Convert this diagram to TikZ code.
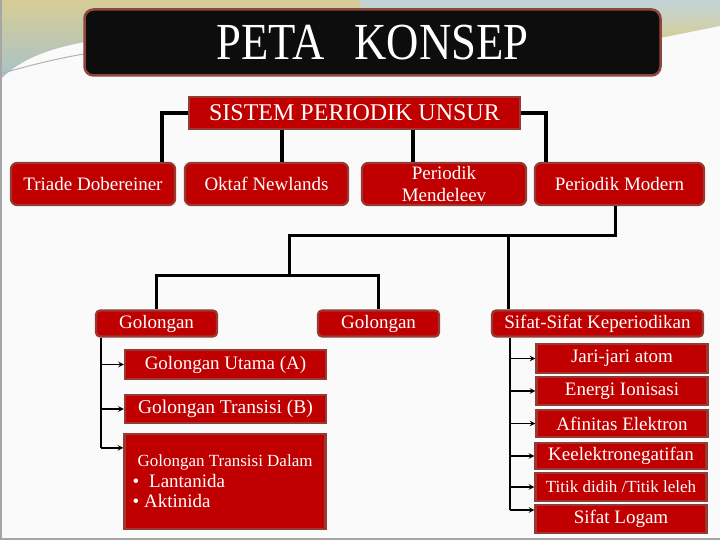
\documentclass[tikz,border=0pt]{standalone}
\usepackage{fontspec}
\setmainfont{Liberation Serif}
\newfontfamily\titlefont[FakeStretch=0.86]{Liberation Serif}
\usetikzlibrary{arrows, positioning, calc}
\definecolor{unsurRed}{RGB}{192, 0, 0}
\definecolor{edgeBrown}{RGB}{150, 58, 52}
\definecolor{titleEdge}{RGB}{140, 72, 62}
\definecolor{paperWhite}{RGB}{250, 250, 250}
\definecolor{bandKhaki}{RGB}{214, 205, 150}
\definecolor{bandBlue}{RGB}{168, 194, 200}
\newcommand{\sizept}[1]{\fontsize{#1}{#1}\selectfont}

\begin{document}
\begin{tikzpicture}[
        x=1pt, y=-1pt,
        font=\sizept{19},
        titlebox/.style={rectangle, fill=black!95, draw=titleEdge, line width=2.5pt, rounded corners=9pt, text=white, inner sep=0pt},
        rootbox/.style={rectangle, fill=unsurRed, draw=edgeBrown, line width=2pt, text=white, inner sep=0pt, font=\sizept{24}},
        conceptbox/.style={rectangle, fill=unsurRed, draw=edgeBrown, line width=2.2pt, text=white, inner sep=0pt, rounded corners=6pt, align=center},
        groupbox/.style={conceptbox, rounded corners=4pt},
        itembox/.style={rectangle, fill=unsurRed, draw=edgeBrown, line width=2.2pt, text=white, inner sep=0pt, align=center},
        link/.style={line width=3.5pt, black},
        thinlink/.style={line width=3pt, black},
        trunk/.style={line width=1.5pt, black},
        branch/.style={->, >=stealth, line width=1.5pt, black}
    ]
        \useasboundingbox (0,0) rectangle (720,540);
        % background
        \fill[paperWhite] (0,0) rectangle (720,540);
        \shade[top color=bandKhaki, bottom color=bandBlue] (0,0) -- (360,0) -- (360,40) -- (85,42) .. controls (40,50) and (15,64) .. (0,80) -- cycle;
        \shade[top color=bandBlue!70, bottom color=bandKhaki] (360,0) -- (720,0) -- (720,26) .. controls (700,30) and (680,34) .. (660,38) -- (360,40) -- cycle;
        \draw[gray!60, line width=1pt] (0,74) .. controls (30,65) and (60,58) .. (84,54);
        \draw[gray!70, line width=1.5pt] (1,0) -- (1,539) -- (720,539);

        % title and root
        \node[titlebox, minimum width=576, minimum height=66] (title) at (372.5,42.5) {\titlefont\sizept{52}PETA\hspace{30pt}KONSEP};
        \node[rootbox, minimum width=331, minimum height=32] (unsur) at (354.5,113) {SISTEM PERIODIK UNSUR};

        % first row
        \node[conceptbox, minimum width=164, minimum height=42] (triade) at (93,184) {Triade Dobereiner};
        \node[conceptbox, minimum width=163, minimum height=42] (oktaf) at (266.5,184) {Oktaf Newlands};
        \node[conceptbox, minimum width=164, minimum height=42, font=\fontsize{19}{22}\selectfont] (mendeleev) at (444,184) {Periodik\\Mendeleev};
        \node[conceptbox, minimum width=169, minimum height=42] (modern) at (619.5,184) {Periodik Modern};

        % second row
        \node[groupbox, minimum width=121, minimum height=26] (gol1) at (156.5,323.5) {Golongan};
        \node[groupbox, minimum width=121, minimum height=26] (gol2) at (378.5,323.5) {Golongan};
        \node[groupbox, minimum width=211, minimum height=26] (sifat) at (597.5,323.5) {Sifat-Sifat Keperiodikan};

        % kinds of groups
        \node[itembox, minimum width=201, minimum height=29, font=\sizept{19}] (utama) at (225.5,364.5) {Golongan Utama (A)};
        \node[itembox, minimum width=201, minimum height=28, font=\sizept{19.5}] (transisi) at (225.5,409) {Golongan Transisi (B)};
        \node[itembox, minimum width=201, minimum height=95, text width=185, inner xsep=8pt, align=flush left, font=\fontsize{19}{20.5}\selectfont] (dalam) at (225,481.5) {\hspace*{5pt}{\fontsize{17}{20.5}\selectfont Golongan Transisi Dalam}\\\textbullet\hspace{10pt}Lantanida\\\textbullet\hspace{5pt}Aktinida};

        % periodic properties
        \node[itembox, minimum width=171, minimum height=29] (jari) at (622,358.5) {Jari-jari atom};
        \node[itembox, minimum width=171, minimum height=28] (energi) at (622,391) {Energi Ionisasi};
        \node[itembox, minimum width=171, minimum height=27] (afinitas) at (622,423.5) {Afinitas Elektron};
        \node[itembox, minimum width=171, minimum height=26] (keelektro) at (621,456) {Keelektronegatifan};
        \node[itembox, minimum width=171, minimum height=28, font=\sizept{17}] (titik) at (621,487) {Titik didih /Titik leleh};
        \node[itembox, minimum width=171, minimum height=28] (logam) at (621,519) {Sifat Logam};

        % links from the root
        \coordinate (oktafIn) at ([xshift=15.5pt]oktaf.north);
        \coordinate (mendIn) at ([xshift=-31pt]mendeleev.north);
        \draw[link] (unsur.west) -| ([xshift=-14pt]triade.north east);
        \draw[link] (oktafIn) -- (oktafIn |- unsur.south);
        \draw[link] (mendIn) -- (mendIn |- unsur.south);
        \draw[link] (unsur.east) -| ([xshift=12pt]modern.north west);

        % links to the second row
        \coordinate (modernOut) at ([xshift=-4.5pt]modern.south);
        \coordinate (splitTop) at (289,235);
        \coordinate (splitLow) at (289,275);
        \coordinate (sifatIn) at ([xshift=18pt]sifat.north west);
        \draw[thinlink] (modernOut) |- (splitTop) -- (splitLow);
        \draw[thinlink] (gol1.north) |- (splitLow) -| (gol2.north);
        \draw[thinlink] (sifatIn) -- (sifatIn |- splitTop);

        % group list
        \coordinate (golTrunk) at ([xshift=6pt]gol1.south west);
        \coordinate (dalamIn) at ([yshift=-15pt]dalam.north west);
        \draw[trunk] (golTrunk) -- (golTrunk |- dalamIn);
        \foreach \n in {utama, transisi} {
            \draw[branch] (golTrunk |- \n.west) -- (\n.west);
        }
        \draw[branch] (golTrunk |- dalamIn) -- (dalamIn);

        % property list
        \coordinate (sifatTrunk) at ([xshift=19pt]sifat.south west);
        \coordinate (logamIn) at ([yshift=9pt]logam.west);
        \draw[trunk] (sifatTrunk) -- (sifatTrunk |- logamIn);
        \foreach \n in {jari, energi, afinitas, keelektro, titik} {
            \draw[branch] (sifatTrunk |- \n.west) -- (\n.west);
        }
        \draw[branch] (sifatTrunk |- logamIn) -- (logamIn);
    \end{tikzpicture}
\end{document}
